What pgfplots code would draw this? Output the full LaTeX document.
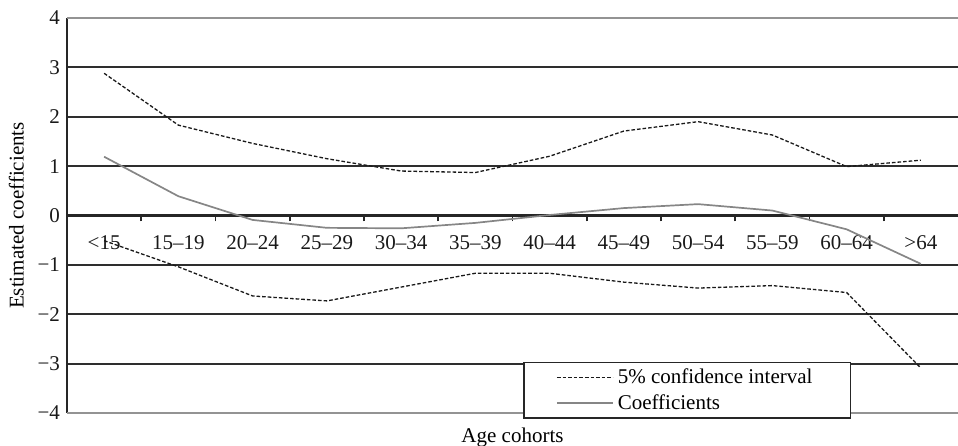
\documentclass[border=0pt]{standalone}
\usepackage{fontspec}
\setmainfont{Liberation Serif}
\usepackage{pgfplots}
\pgfplotsset{compat=1.18}
\begin{document}
\begin{tikzpicture}
\begin{axis}[
  name=ax,
  scale only axis, width=445.5pt, height=197.5pt,
  xmin=-0.5, xmax=11.5, ymin=-4, ymax=4,
  axis x line=middle, axis y line=left,
  axis line style={-, black!85, line width=1.1pt},
  hide obscured x ticks=false, hide obscured y ticks=false,
  font=\fontsize{10.5}{12}\selectfont,
  xtick={0,...,11},
  xticklabels={<15,15–19,20–24,25–29,30–34,35–39,40–44,45–49,50–54,55–59,60–64,>64},
  xticklabel style={anchor=center, yshift=-13.5pt, text=black!90},
  yticklabel style={text=black!90},
  minor xtick={0.5,1.5,...,10.5},
  major tick length=0pt, minor tick length=3pt, tick align=outside,
  tick style={black!85, line width=0.9pt},
  ytick={-3,...,3},
  yticklabels={−3,−2,−1,0,1,2,3},
  extra y ticks={-4,4}, extra y tick labels={−4,4},
  extra y tick style={grid style={gray!85, line width=1.1pt}},
  ymajorgrids, grid style={black!82, line width=0.95pt},
  xlabel={Age cohorts}, ylabel={Estimated coefficients},
  xlabel style={at={(axis description cs:0.5,0)}, anchor=center, yshift=-12.3pt, inner sep=0.5pt},
  legend style={at={(axis description cs:0.512,-0.015)}, anchor=south west,
    draw=black!85, line width=0.9pt, fill=white, inner xsep=16pt, inner ysep=1pt,
    row sep=0pt, font=\fontsize{10.5}{12}\selectfont},
  legend cell align=left,
  legend image code/.code={\draw[#1] (0pt,0pt) -- (28pt,0pt);},
]
\addplot[black!90, line width=0.65pt, dash pattern=on 1.8pt off 1pt] coordinates {
(0,2.88) (1,1.83) (2,1.46) (3,1.15) (4,0.90) (5,0.87) (6,1.20) (7,1.71) (8,1.90) (9,1.63) (10,0.99) (11,1.12)};
\addlegendentry{5\% confidence interval\kern1pt}
\addplot[forget plot, black!90, line width=0.65pt, dash pattern=on 1.8pt off 1pt] coordinates {
(0,-0.51) (1,-1.04) (2,-1.63) (3,-1.73) (4,-1.45) (5,-1.17) (6,-1.17) (7,-1.35) (8,-1.47) (9,-1.42) (10,-1.56) (11,-3.09)};
\addplot[gray!95, line width=0.85pt] coordinates {
(0,1.19) (1,0.39) (2,-0.09) (3,-0.25) (4,-0.26) (5,-0.15) (6,0.01) (7,0.15) (8,0.23) (9,0.10) (10,-0.28) (11,-0.98)};
\addlegendentry{Coefficients}
\end{axis}
\pgfresetboundingbox
\useasboundingbox ([xshift=-33.5pt,yshift=-16.5pt]ax.south west) rectangle ([yshift=9pt]ax.north east);
\end{tikzpicture}
\end{document}
